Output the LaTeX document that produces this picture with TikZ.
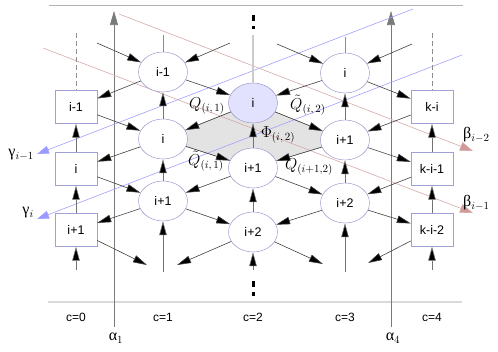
\documentclass[tikz,border=0pt]{standalone}
\usepackage{fontspec}
\setmainfont{Liberation Sans}
\newfontfamily\grk{Liberation Serif}
\usetikzlibrary{arrows.meta,shapes.geometric}
\definecolor{nb}{HTML}{8C8CC8}
\definecolor{bb}{HTML}{A0A0D4}
\definecolor{hl}{HTML}{E2E2FF}
\definecolor{edgec}{HTML}{404040}
\definecolor{blu}{HTML}{A0A0FF}
\definecolor{bluh}{HTML}{9A9AFF}
\definecolor{rd}{HTML}{D8A8A8}
\definecolor{rdh}{HTML}{D09A9A}
\definecolor{alc}{HTML}{7A7A7A}
\definecolor{shd}{HTML}{E3E3E3}
\begin{document}
\begin{tikzpicture}[x=1pt,y=-1pt,
  nodefont/.style={font=\fontsize{12.5}{14}\selectfont},
  ell/.style={ellipse,draw=nb,fill=white,minimum width=49pt,minimum height=40pt,inner sep=0pt,nodefont},
  bx/.style={rectangle,draw=bb,fill=white,minimum width=42pt,minimum height=33pt,inner sep=0pt,nodefont},
  ar/.style={draw=edgec,line width=0.6pt,-{Triangle[length=14pt,width=7.5pt,fill=black]}},
  blul/.style={draw=blu,line width=0.6pt,-{Triangle[length=12pt,width=8pt,fill=bluh]}},
  rdl/.style={draw=rd,line width=0.6pt,-{Triangle[length=13pt,width=9pt,fill=rdh]}},
  alpl/.style={draw=alc,line width=0.6pt,-{Triangle[length=14pt,width=8pt,fill=alc]}},
  lbl/.style={font=\fontsize{14.4}{17}\selectfont,inner sep=0pt,scale=1.1},
  grl/.style={font=\fontsize{16}{18}\selectfont\grk,inner sep=0pt},
  cl/.style={font=\fontsize{12}{14}\selectfont,inner sep=0pt}]
\useasboundingbox (0,0) rectangle (498,351);
% frame lines
\draw[line width=0.8pt,draw=black!30] (49,5) -- (463,5);
\draw[line width=1.5pt,draw=black!15] (48,302) -- (462,302);
% shaded diamond
\fill[shd,draw=black!35,line width=0.4pt] (253,103) -- (163,139) -- (253,168) -- (345,140) -- cycle;
% axes
\draw[alpl] (114,327) -- (114,11);
\draw[alpl] (391,327) -- (391,11);
% colored lines
\draw[blul] (413,9) -- (37,154);
\draw[blul] (462,55) -- (37,219);
\draw[rdl] (119,14) -- (473,151);
\draw[rdl] (43,48) -- (473,213);
% nodes
\node[bx] (B01) at (76,107) {i-1};
\node[bx] (B02) at (76,169) {i};
\node[bx] (B03) at (76,230) {i+1};
\node[ell] (E11) at (163,72) {i-1};
\node[ell] (E12) at (163,139) {i};
\node[ell] (E13) at (163,201) {i+1};
\node[ell,fill=hl] (E21) at (253,103) {i};
\node[ell] (E22) at (253,168) {i+1};
\node[ell] (E23) at (253,232) {i+2};
\node[ell] (E31) at (345,73) {i};
\node[ell] (E32) at (345,140) {i+1};
\node[ell] (E33) at (345,203) {i+2};
\node[bx] (B41) at (432,107) {k-i};
\node[bx] (B42) at (432,169) {k-i-1};
\node[bx] (B43) at (432,230) {k-i-2};
% free ends
\coordinate (t1) at (97,43);
\coordinate (t2) at (230,43);
\coordinate (t3) at (277,44);
\coordinate (t4) at (412,44);
\coordinate (b1) at (147,265);
\coordinate (b2) at (177,265);
\coordinate (b3) at (323,264);
\coordinate (b4) at (368,263);
\coordinate (v0) at (76,270);
\coordinate (v1) at (163,272);
\coordinate (v2) at (253,270);
\coordinate (v3) at (345,272);
\coordinate (v4) at (432,270);
\coordinate (d0) at (76,33);
\coordinate (d4) at (432,33);
\coordinate (u1) at (163,35);
\coordinate (u2) at (253,35);
\coordinate (u3) at (345,37);
% top stubs
\draw[draw=black!45,line width=0.6pt,dash pattern=on 5pt off 3pt] (d0) -- (B01.north);
\draw[draw=black!45,line width=0.6pt,dash pattern=on 5pt off 3pt] (d4) -- (B41.north);
\draw[draw=black!45,line width=0.6pt] (u1) -- (E11.north);
\draw[draw=black!45,line width=0.6pt] (u3) -- (E31.north);
\draw[draw=black!20,line width=2pt] (u2) -- (E21.north);
% vertical dots
\fill (251.5,15) rectangle (254.8,21);
\fill (251.5,26) rectangle (254.8,29);
\fill (251.5,281) rectangle (254.8,287);
\fill (251.5,292) rectangle (254.8,296);
% diagonal arrows
\draw[ar] (t1) -- (E11);
\draw[ar] (t2) -- (E11);
\draw[ar] (t3) -- (E31);
\draw[ar] (t4) -- (E31);
\draw[ar] (E11) -- (B01);
\draw[ar] (E11) -- (E21);
\draw[ar] (E31) -- (E21);
\draw[ar] (E31) -- (B41);
\draw[ar] (B01) -- (E12);
\draw[ar] (E21) -- (E12);
\draw[ar] (E21) -- (E32);
\draw[ar] (B41) -- (E32);
\draw[ar] (E12) -- (B02);
\draw[ar] (E12) -- (E22);
\draw[ar] (E32) -- (E22);
\draw[ar] (E32) -- (B42);
\draw[ar] (B02) -- (E13);
\draw[ar] (E22) -- (E13);
\draw[ar] (E22) -- (E33);
\draw[ar] (B42) -- (E33);
\draw[ar] (E13) -- (B03);
\draw[ar] (E13) -- (E23);
\draw[ar] (E33) -- (E23);
\draw[ar] (E33) -- (B43);
\draw[ar] (B03) -- (b1);
\draw[ar] (E23) -- (b2);
\draw[ar] (E23) -- (b3);
\draw[ar] (B43) -- (b4);
% vertical arrows
\draw[ar,draw=black!55] (B02) -- (B01);
\draw[ar,draw=black!55] (B03) -- (B02);
\draw[ar,draw=black!55] (v0) -- (B03);
\draw[ar,draw=black!55] (E12) -- (E11);
\draw[ar,draw=black!55] (E13) -- (E12);
\draw[ar,draw=black!55] (v1) -- (E13);
\draw[ar,draw=black!55] (E22) -- (E21);
\draw[ar,draw=black!55] (E23) -- (E22);
\draw[ar,draw=black!55] (v2) -- (E23);
\draw[ar,draw=black!55] (E32) -- (E31);
\draw[ar,draw=black!55] (E33) -- (E32);
\draw[ar,draw=black!55] (v3) -- (E33);
\draw[ar,draw=black!55] (B42) -- (B41);
\draw[ar,draw=black!55] (B43) -- (B42);
\draw[ar,draw=black!55] (v4) -- (B43);
% labels
\node[lbl] (q1) at (207,106) {$Q_{(i,\,1)}$};
\node[lbl] (q2) at (206,161) {$\tilde{Q}_{(i,\,1)}$};
\node[lbl] (q3) at (278,135) {$\Phi_{(i,\,2)}$};
\node[lbl] (q4) at (308,105) {$\tilde{Q}_{(i,\,2)}$};
\node[lbl] (q5) at (309,167) {$Q_{(i+1,2)}$};
\node[grl,anchor=east] (g1) at (34,155) {γ$_{i-1}$};
\node[grl,anchor=east] (g2) at (34,213) {γ$_{i}$};
\node[grl,anchor=west] (be1) at (463,135) {β$_{i-2}$};
\node[grl,anchor=west] (be2) at (463,203) {β$_{i-1}$};
\node[grl] (a1) at (116,338) {α$_1$};
\node[grl] (a4) at (393,338) {α$_4$};
\node[cl] (c0) at (76,317) {c=0};
\node[cl] (c1) at (163,317) {c=1};
\node[cl] (c2) at (253,317) {c=2};
\node[cl] (c3) at (345,317) {c=3};
\node[cl] (c4) at (432,317) {c=4};
\end{tikzpicture}
\end{document}
